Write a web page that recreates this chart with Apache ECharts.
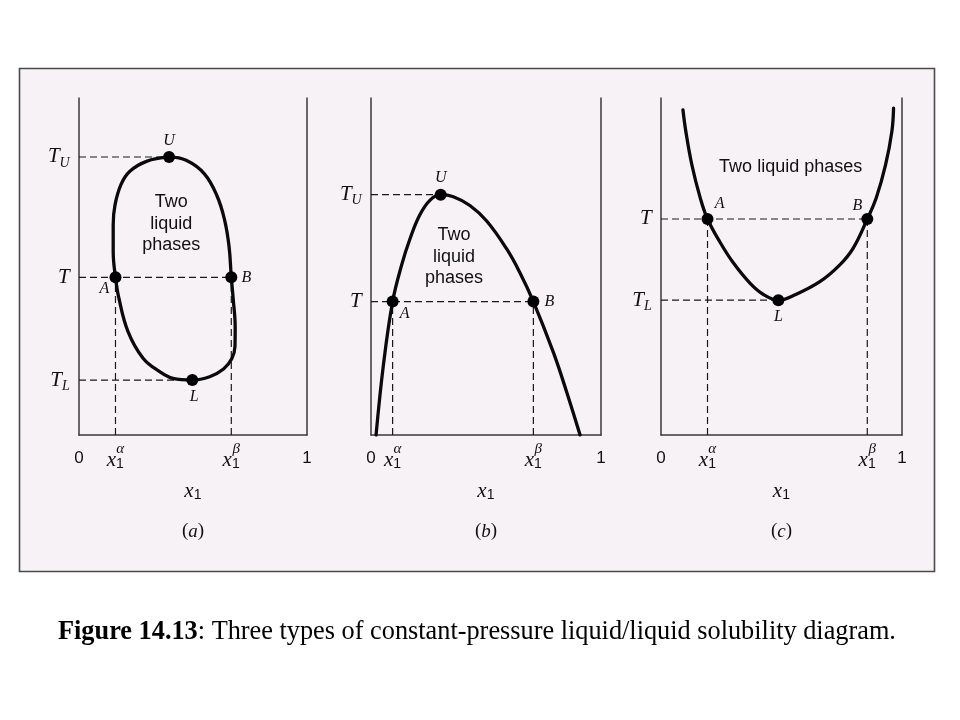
<!DOCTYPE html>
<html>
<head>
<meta charset="utf-8">
<script src="https://cdn.jsdelivr.net/npm/echarts@6/dist/echarts.min.js"></script>
<style>
html,body{margin:0;padding:0;background:#ffffff;}
#chart{width:960px;height:720px;}
</style>
</head>
<body>
<div id="chart"></div>
<script>
// ================= DATA =================
// Panel (a): closed loop with upper (U) and lower (L) consolute points
const curveA = [
  [0.395,0.825],[0.47,0.815],[0.55,0.775],[0.605,0.71],[0.638,0.64],[0.658,0.56],
  [0.668,0.468],[0.676,0.406],[0.685,0.320],[0.684,0.262],[0.670,0.226],[0.634,0.196],
  [0.573,0.173],[0.497,0.163],[0.412,0.168],[0.354,0.188],[0.281,0.228],[0.215,0.307],
  [0.175,0.406],[0.16,0.468],[0.150,0.544],[0.150,0.624],[0.158,0.683],[0.184,0.743],
  [0.222,0.782],[0.296,0.812],[0.395,0.825]
];
const pointsA = [['U',0.395,0.825],['A',0.16,0.468],['B',0.668,0.468],['L',0.497,0.163]];
const xTicksA = [0, 0.16, 0.668, 1];
const xTickLabelsA = ['0', 'x1^α', 'x1^β', '1'];
const yTicksA = [0.163, 0.468, 0.825];
const yTickLabelsA = ['T_L', 'T', 'T_U'];

// Panel (b): upper consolute point only
const curveB = [
  [0.022,0],[0.054,0.208],[0.094,0.396],[0.133,0.504],[0.170,0.583],[0.213,0.654],
  [0.257,0.697],[0.303,0.713],[0.358,0.707],[0.430,0.681],[0.503,0.635],[0.590,0.552],
  [0.648,0.481],[0.706,0.396],[0.793,0.245],[0.851,0.127],[0.909,0]
];
const pointsB = [['U',0.303,0.713],['A',0.094,0.396],['B',0.706,0.396]];
const xTicksB = [0, 0.094, 0.706, 1];
const xTickLabelsB = ['0', 'x1^α', 'x1^β', '1'];
const yTicksB = [0.396, 0.713];
const yTickLabelsB = ['T', 'T_U'];

// Panel (c): lower consolute point only
const curveC = [
  [0.091,0.965],[0.103,0.901],[0.128,0.802],[0.163,0.703],[0.193,0.641],[0.245,0.572],
  [0.300,0.511],[0.370,0.450],[0.425,0.417],[0.487,0.400],[0.556,0.416],[0.659,0.455],
  [0.742,0.505],[0.797,0.554],[0.856,0.641],[0.893,0.703],[0.932,0.802],[0.958,0.901],
  [0.965,0.970]
];
const pointsC = [['A',0.193,0.641],['B',0.856,0.641],['L',0.487,0.400]];
const xTicksC = [0, 0.193, 0.856, 1];
const xTickLabelsC = ['0', 'x1^α', 'x1^β', '1'];
const yTicksC = [0.400, 0.641];
const yTickLabelsC = ['T_L', 'T'];

const regionTexts = ['Two\nliquid\nphases', 'Two\nliquid\nphases', 'Two liquid phases'];
const panelLetters = ['a', 'b', 'c'];
const captionBold = 'Figure 14.13';
const captionRest = ': Three types of constant-pressure liquid/liquid solubility diagram.';

// ================= LAYOUT / STYLE =================
const GRID = [
  {left: 79, top: 98, width: 228, height: 337},
  {left: 371, top: 98, width: 230, height: 337},
  {left: 661, top: 98, width: 241, height: 337}
];
const regionTextAnchor = [[0.405, 0.627], [0.361, 0.529], [0.538, 0.795]];
const labelOffsets = [
  {U:[0,-16], A:[-11,12], B:[15,1], L:[2,17]},
  {U:[0,-17], A:[12,12], B:[16,0]},
  {A:[12,-15], B:[-10,-13], L:[0,17]}
];

const SERIF = '"Liberation Serif", "Times New Roman", serif';
const SANS = '"Liberation Sans", Arial, Helvetica, sans-serif';
const INK = '#111111';
const AXIS = '#3a3a3a';

const panels = [
  {curve: curveA, points: pointsA, xT: xTicksA, xL: xTickLabelsA, yT: yTicksA, yL: yTickLabelsA},
  {curve: curveB, points: pointsB, xT: xTicksB, xL: xTickLabelsB, yT: yTicksB, yL: yTickLabelsB},
  {curve: curveC, points: pointsC, xT: xTicksC, xL: xTickLabelsC, yT: yTicksC, yL: yTickLabelsC}
];

const xRich = {
  sa: {fontFamily: SERIF, fontStyle: 'italic', fontSize: 15, lineHeight: 2, align: 'right', color: INK},
  x:  {fontFamily: SERIF, fontStyle: 'italic', fontSize: 21, lineHeight: 10, verticalAlign: 'top', color: INK},
  xs: {fontFamily: SANS, fontSize: 14, lineHeight: 12, verticalAlign: 'bottom', color: INK},
  hx: {fontSize: 1, lineHeight: 21},
  n:  {fontFamily: SANS, fontSize: 17, lineHeight: 10, verticalAlign: 'top', color: INK}
};
const yRich = {
  t:  {fontFamily: SERIF, fontStyle: 'italic', fontSize: 21, lineHeight: 20, verticalAlign: 'middle', color: INK},
  ts: {fontFamily: SERIF, fontStyle: 'italic', fontSize: 14, lineHeight: 12, verticalAlign: 'bottom', color: INK},
  hy: {fontSize: 1, lineHeight: 26}
};

function xLabelRich(lbl) {
  const m = /^x1\^(.)$/.exec(lbl);
  if (m) return '{sa|' + m[1] + '}\n{x|x}{xs|1}{hx| }';
  return '{sa| }\n{n|' + lbl + '}{hx| }';
}
function yLabelRich(lbl) {
  const parts = lbl.split('_');
  return '{t|' + parts[0] + '}' + (parts[1] ? '{ts|' + parts[1] + '}' : '') + '{hy| }';
}
function findLabel(ticks, labels, v) {
  for (let k = 0; k < ticks.length; k++) if (Math.abs(ticks[k] - v) < 1e-6) return labels[k];
  return '';
}
function pt(points, name) {
  const p = points.find(q => q[0] === name);
  return p ? [p[1], p[2]] : null;
}

const grids = [], xAxes = [], yAxes = [], series = [], graphics = [];

panels.forEach((P, i) => {
  const g = GRID[i];
  grids.push({left: g.left, top: g.top, width: g.width, height: g.height, containLabel: false});
  xAxes.push({
    type: 'value', gridIndex: i, min: 0, max: 1,
    axisLine: {show: true, onZero: false, lineStyle: {color: AXIS, width: 1.5}},
    axisTick: {show: false}, splitLine: {show: false},
    axisLabel: {
      show: true, customValues: P.xT, margin: 13,
      formatter: v => xLabelRich(findLabel(P.xT, P.xL, v)),
      rich: xRich
    },
    name: '{x|x}{xs|1}{hx| }', nameLocation: 'middle', nameGap: 46,
    nameTextStyle: {rich: xRich}
  });
  yAxes.push({
    type: 'value', gridIndex: i, min: 0, max: 1, position: 'left',
    axisLine: {show: true, onZero: false, lineStyle: {color: AXIS, width: 1.5}},
    axisTick: {show: false}, splitLine: {show: false},
    axisLabel: {
      show: true, customValues: P.yT, margin: 9,
      formatter: v => yLabelRich(findLabel(P.yT, P.yL, v)),
      rich: yRich
    }
  });
  yAxes.push({
    type: 'value', gridIndex: i, min: 0, max: 1, position: 'right',
    axisLine: {show: true, onZero: false, lineStyle: {color: AXIS, width: 1.5}},
    axisTick: {show: false}, splitLine: {show: false}, axisLabel: {show: false}
  });
  const xi = i, yi = 2 * i;

  // dashed guide lines, built from the marked points
  const A = pt(P.points, 'A'), B = pt(P.points, 'B'), U = pt(P.points, 'U'), L = pt(P.points, 'L');
  const guides = [];
  if (U) guides.push([[0, U[1]], [U[0], U[1]]]);
  guides.push([[0, A[1]], [B[0], B[1]]]);
  if (L) guides.push([[0, L[1]], [L[0], L[1]]]);
  guides.push([[A[0], 0], [A[0], A[1]]]);
  guides.push([[B[0], 0], [B[0], B[1]]]);
  guides.forEach(seg => {
    series.push({
      type: 'line', xAxisIndex: xi, yAxisIndex: yi, data: seg,
      symbol: 'none', silent: true, z: 1,
      lineStyle: {color: '#1a1a1a', width: 1.2, type: [7, 4]}
    });
  });

  // binodal curve
  series.push({
    type: 'line', xAxisIndex: xi, yAxisIndex: yi, data: P.curve,
    symbol: 'none', smooth: 0.4, silent: true, z: 3,
    lineStyle: {color: '#0a0a0a', width: 3.3, cap: 'round', join: 'round'}
  });

  // region label
  series.push({
    type: 'scatter', xAxisIndex: xi, yAxisIndex: yi, symbolSize: 0, silent: true, z: 4,
    itemStyle: {opacity: 1},
    data: [{value: regionTextAnchor[i], name: regionTexts[i]}],
    label: {
      show: true, position: 'inside', formatter: '{b}', opacity: 1,
      fontFamily: SANS, fontSize: 18, lineHeight: 21.5, color: '#111111', align: 'center'
    }
  });

  // marked points
  series.push({
    type: 'scatter', xAxisIndex: xi, yAxisIndex: yi, symbol: 'circle', symbolSize: 12, z: 5,
    itemStyle: {color: '#000000', opacity: 1},
    data: P.points.map(p => ({
      value: [p[1], p[2]], name: p[0],
      label: {show: true, position: 'inside', offset: labelOffsets[i][p[0]], formatter: '{b}', opacity: 1,
        fontFamily: SERIF, fontStyle: 'italic', fontSize: 16, color: INK}
    }))
  });

  // panel sub-caption (a), (b), (c)
  graphics.push({
    type: 'text', x: g.left + g.width / 2, y: 531.5, silent: true,
    style: {
      text: '{p|(}{i|' + panelLetters[i] + '}{p|)}',
      textAlign: 'center', textVerticalAlign: 'middle',
      rich: {
        p: {fontFamily: SERIF, fontSize: 19, fill: INK, color: INK},
        i: {fontFamily: SERIF, fontStyle: 'italic', fontSize: 19, fill: INK, color: INK}
      }
    }
  });
});

// frame and caption
graphics.unshift({
  type: 'rect', z: -10, silent: true,
  shape: {x: 19.5, y: 68.5, width: 915, height: 503},
  style: {fill: '#f6f2f6', stroke: '#4a4a4a', lineWidth: 1.6}
});
graphics.push({
  type: 'text', x: 58, y: 632, silent: true,
  style: {
    text: '{b|' + captionBold + '}{r|' + captionRest + '}',
    textVerticalAlign: 'middle',
    rich: {
      b: {fontFamily: SERIF, fontWeight: 'bold', fontSize: 26.3, fill: '#000', color: '#000'},
      r: {fontFamily: SERIF, fontSize: 26.3, fill: '#000', color: '#000'}
    }
  }
});

const chart = echarts.init(document.getElementById('chart'), null, {renderer: 'canvas'});
chart.setOption({
  backgroundColor: '#ffffff',
  animation: false,
  grid: grids,
  xAxis: xAxes,
  yAxis: yAxes,
  series: series,
  graphic: {elements: graphics}
});
</script>
</body>
</html>
